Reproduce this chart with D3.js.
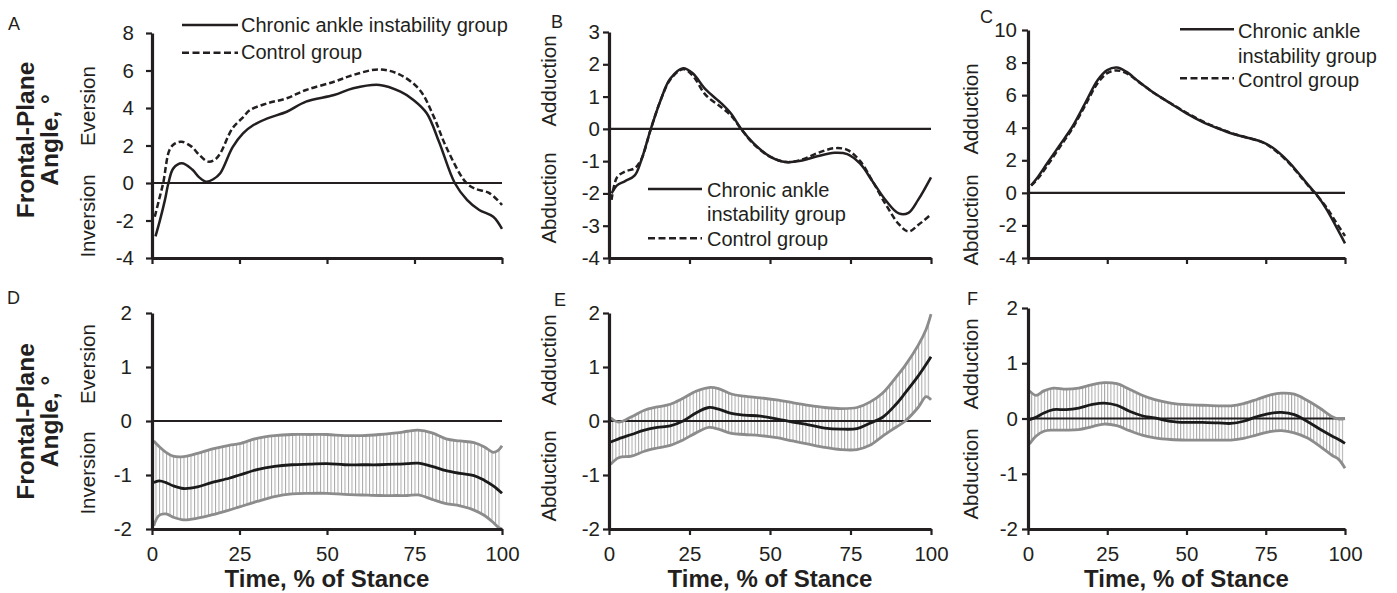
<!DOCTYPE html>
<html><head><meta charset="utf-8">
<script src="https://cdn.jsdelivr.net/npm/d3@7"></script>
<style>
body{margin:0;background:#fff}
svg{display:block}
text{font-family:"Liberation Sans",Arial,Helvetica,sans-serif;fill:#231f20}
</style>
</head><body><svg id="c" width="1397" height="593"></svg>
<script>
// ---------------- data ----------------
const stanceTicks = [0, 25, 50, 75, 100];
const aTicks = [-4, -2, 0, 2, 4, 6, 8];
const bTicks = [-4, -3, -2, -1, 0, 1, 2, 3];
const cTicks = [-4, -2, 0, 2, 4, 6, 8, 10];
const diffTicks = [-2, -1, 0, 1, 2];
const seriesNames = ["Chronic ankle instability group", "Control group"];

// Panel A: ankle (rearfoot) frontal-plane angle
const aTimeCAI = [1, 2.3, 3.7, 4.7, 6.1, 8.5, 11.5, 13.5, 15.5, 17.5, 19.5, 23, 26, 29, 33, 38.5, 44, 52, 57.5, 65, 71, 74.7, 78.5, 82, 86.5, 90, 93.5, 97.5, 100];
const aCAI = [-2.85, -1.97, -0.9, 0, 0.78, 1.05, 0.72, 0.3, 0.07, 0.2, 0.52, 1.9, 2.65, 3.09, 3.45, 3.8, 4.34, 4.69, 5.05, 5.23, 4.87, 4.43, 3.72, 2.2, 0, -0.9, -1.44, -1.8, -2.45];
const aTimeCtrl = [0.8, 2, 3.2, 5, 6.5, 8.5, 11.3, 13.5, 16, 18, 19.5, 23, 26, 28, 33, 38.5, 44, 52, 57.5, 65, 71, 76.5, 80.5, 84, 89.5, 92, 96.5, 100];
const aCtrl = [-1.8, -0.9, 0, 1.76, 2.1, 2.2, 1.94, 1.5, 1.14, 1.25, 1.58, 2.92, 3.5, 3.89, 4.25, 4.52, 4.96, 5.4, 5.76, 6.06, 5.76, 4.96, 3.54, 1.94, 0.07, -0.28, -0.55, -1.17];

// Panel B
const bTime = [0.8, 2.5, 5, 8, 10, 13, 16, 19, 23, 26, 30, 35, 38, 41, 45, 50, 55, 60, 65, 70, 74, 78, 82, 86, 90, 93, 96, 100];
const bCAI = [-2.0, -1.75, -1.62, -1.44, -0.98, 0, 0.88, 1.55, 1.88, 1.72, 1.22, 0.78, 0.46, 0, -0.46, -0.86, -1.03, -0.98, -0.84, -0.74, -0.78, -1.08, -1.65, -2.22, -2.62, -2.6, -2.2, -1.5];
const bCtrl = [-2.2, -1.5, -1.32, -1.22, -0.95, 0, 0.88, 1.52, 1.85, 1.65, 1.05, 0.66, 0.4, 0, -0.48, -0.86, -1.03, -0.95, -0.74, -0.6, -0.65, -1.0, -1.65, -2.35, -2.95, -3.18, -2.98, -2.65];

// Panel C
const cTime = [1, 3, 6, 10, 14, 18, 22, 25, 28, 31, 35, 40, 45, 50, 55, 60, 65, 70, 74, 77, 82, 86, 89, 91, 94, 97, 100];
const cCAI = [0.47, 0.95, 1.8, 2.93, 4.06, 5.49, 6.93, 7.54, 7.7, 7.44, 6.82, 6.1, 5.49, 4.88, 4.36, 3.95, 3.6, 3.35, 3.12, 2.8, 1.95, 1.05, 0.35, -0.1, -0.95, -2.0, -3.1];
const cCtrl = [0.45, 0.85, 1.65, 2.8, 3.95, 5.35, 6.75, 7.35, 7.52, 7.35, 6.8, 6.1, 5.5, 4.92, 4.4, 3.98, 3.62, 3.35, 3.1, 2.75, 1.9, 1.0, 0.3, -0.12, -0.85, -1.75, -2.65];

// Panel D: mean difference with confidence band
const dTime = [0.5, 2, 4, 6, 9, 13, 17, 22, 25, 30, 35, 40, 45, 50, 55, 60, 65, 70, 73, 76, 80, 84, 88, 92, 95, 97.5, 99, 100];
const dMean = [-1.14, -1.11, -1.14, -1.2, -1.25, -1.22, -1.14, -1.06, -1.0, -0.9, -0.84, -0.81, -0.8, -0.79, -0.81, -0.81, -0.81, -0.8, -0.79, -0.78, -0.84, -0.92, -0.97, -1.01, -1.1, -1.2, -1.28, -1.34];
const dUpper = [-0.37, -0.47, -0.58, -0.65, -0.66, -0.6, -0.52, -0.45, -0.42, -0.32, -0.27, -0.25, -0.25, -0.25, -0.27, -0.27, -0.25, -0.22, -0.19, -0.17, -0.22, -0.33, -0.37, -0.4, -0.48, -0.58, -0.54, -0.46];
const dLower = [-1.94, -1.75, -1.72, -1.78, -1.83, -1.8, -1.74, -1.65, -1.59, -1.49, -1.4, -1.35, -1.34, -1.34, -1.36, -1.37, -1.38, -1.38, -1.38, -1.37, -1.45, -1.53, -1.57, -1.65, -1.75, -1.88, -1.97, -2.0];

// Panel E
const eTime = [0.5, 3, 7, 11, 15, 19, 23, 27, 31, 34, 38, 42, 47, 52, 57, 62, 67, 72, 77, 81, 85, 89, 92, 96, 98.5, 100];
const eMean = [-0.39, -0.33, -0.25, -0.17, -0.12, -0.09, 0, 0.15, 0.25, 0.22, 0.14, 0.11, 0.09, 0.04, -0.02, -0.07, -0.13, -0.15, -0.14, -0.04, 0.07, 0.3, 0.52, 0.83, 1.05, 1.19];
const eUpper = [0.06, -0.02, 0.08, 0.2, 0.26, 0.31, 0.42, 0.55, 0.62, 0.6, 0.5, 0.46, 0.43, 0.39, 0.34, 0.29, 0.25, 0.23, 0.25, 0.35, 0.52, 0.8, 1.03, 1.4, 1.7, 1.98];
const eLower = [-0.8, -0.68, -0.65, -0.56, -0.5, -0.45, -0.35, -0.22, -0.12, -0.15, -0.23, -0.25, -0.27, -0.31, -0.37, -0.43, -0.49, -0.53, -0.53, -0.45, -0.28, -0.12, 0, 0.25, 0.45, 0.39];

// Panel F
const fTime = [0.5, 2.5, 5, 8, 12, 16, 20, 24, 28, 32, 36, 40, 45, 50, 55, 60, 64, 68, 72, 76, 80, 84, 88, 92, 96, 98, 100];
const fMean = [-0.02, 0.02, 0.1, 0.16, 0.16, 0.19, 0.25, 0.28, 0.24, 0.13, 0.05, 0.01, -0.05, -0.07, -0.07, -0.08, -0.09, -0.05, 0.03, 0.09, 0.11, 0.07, -0.05, -0.19, -0.32, -0.38, -0.45];
const fUpper = [0.5, 0.42, 0.5, 0.55, 0.53, 0.55, 0.61, 0.65, 0.63, 0.53, 0.42, 0.34, 0.28, 0.25, 0.24, 0.23, 0.23, 0.27, 0.34, 0.42, 0.46, 0.44, 0.33, 0.19, 0.03, -0.01, 0.0];
const fLower = [-0.46, -0.32, -0.23, -0.21, -0.21, -0.2, -0.15, -0.1, -0.13, -0.22, -0.3, -0.35, -0.38, -0.39, -0.39, -0.39, -0.39, -0.36, -0.3, -0.24, -0.22, -0.26, -0.35, -0.5, -0.67, -0.74, -0.9];

// ---------------- drawing ----------------
const svg = d3.select("#c");
const INK = "#231f20";
const zip = (t, v) => t.map((d, i) => [d, v[i]]);

function drawPanel(cfg) {
  const x = d3.scaleLinear().domain([0, 100]).range([cfg.left, cfg.right]);
  const y = d3.scaleLinear().domain(cfg.domain).range([cfg.bottom, cfg.top]);
  const g = svg.append("g");
  const curve = d3.curveCatmullRom.alpha(0.5);
  const line = d3.line().x(d => x(d[0])).y(d => y(d[1])).curve(curve);

  if (cfg.band) {
    const pw = x(1) - x(0);
    const pat = svg.append("defs").append("pattern")
      .attr("id", "hatch" + cfg.id).attr("patternUnits", "userSpaceOnUse")
      .attr("x", x(0)).attr("y", 0).attr("width", pw).attr("height", 10);
    pat.append("line").attr("x1", 0.5).attr("x2", 0.5).attr("y1", 0).attr("y2", 10)
      .attr("stroke", "#a8a8a8").attr("stroke-width", 1);
    const b = cfg.band;
    const rows = b.time.map((t, i) => ({t, lo: b.lower[i], hi: b.upper[i]}));
    const area = d3.area().x(d => x(d.t)).y0(d => y(d.lo)).y1(d => y(d.hi)).curve(curve);
    g.append("path").attr("d", area(rows)).attr("fill", "url(#hatch" + cfg.id + ")");
  }

  // zero line
  g.append("line").attr("x1", x(0)).attr("x2", x(100)).attr("y1", y(0)).attr("y2", y(0))
    .attr("stroke", INK).attr("stroke-width", 2.2);

  if (cfg.band) {
    const b = cfg.band;
    g.append("path").attr("d", line(zip(b.time, b.upper))).attr("fill", "none").attr("stroke", "#8c8c8c").attr("stroke-width", 2.8);
    g.append("path").attr("d", line(zip(b.time, b.lower))).attr("fill", "none").attr("stroke", "#8c8c8c").attr("stroke-width", 2.8);
    g.append("path").attr("d", line(zip(b.time, b.mean))).attr("fill", "none").attr("stroke", "#1a1a1a").attr("stroke-width", 2.8);
  }
  if (cfg.lines) {
    cfg.lines.forEach(s => {
      g.append("path").attr("d", line(zip(s.time, s.values))).attr("fill", "none")
        .attr("stroke", INK).attr("stroke-width", 2.5)
        .attr("stroke-dasharray", s.dash ? "6,3" : null);
    });
  }

  // axes
  const yAx = g.append("g").attr("transform", `translate(${x(0)},0)`)
    .call(d3.axisLeft(y).tickValues(cfg.yTicks).tickSize(6).tickSizeOuter(0)
      .tickPadding(cfg.yPad).tickFormat(d => String(d)));
  const xAx = g.append("g").attr("transform", `translate(0,${y(cfg.domain[0])})`)
    .call(d3.axisBottom(x).tickValues(stanceTicks).tickSize(6).tickSizeOuter(0)
      .tickPadding(11).tickFormat(d => cfg.xLabels ? String(d) : ""));
  [yAx, xAx].forEach(a => {
    a.select(".domain").attr("stroke", INK).attr("stroke-width", 3.2);
    a.selectAll(".tick line").attr("stroke", INK).attr("stroke-width", 2.2);
    a.selectAll(".tick text").attr("font-size", 20.5).attr("fill", INK)
      .attr("font-family", '"Liberation Sans",Arial,sans-serif');
  });

  // direction annotations
  cfg.notes.forEach(n => {
    g.append("text").attr("transform", `translate(${n.x},${n.y}) rotate(-90)`)
      .attr("text-anchor", "middle").attr("font-size", 20.5).text(n.text);
  });

  // panel letter
  g.append("text").attr("x", cfg.letter[0]).attr("y", cfg.letter[1]).attr("font-size", 18).text(cfg.id);

  if (cfg.xLabels) {
    g.append("text").attr("x", (x(0) + x(100)) / 2).attr("y", 587).attr("text-anchor", "middle")
      .attr("font-size", 24).attr("font-weight", "bold").text("Time, % of Stance");
  }

  if (cfg.legend) {
    const L = cfg.legend;
    L.rows.forEach(r => {
      if (r.line !== undefined) {
        g.append("line").attr("x1", L.x1).attr("x2", L.x2).attr("y1", r.line).attr("y2", r.line)
          .attr("stroke", INK).attr("stroke-width", 2.4).attr("stroke-dasharray", r.dash ? "7,3.5" : null);
      }
      g.append("text").attr("x", L.tx).attr("y", r.base).attr("font-size", 20).text(r.text);
    });
  }
}

function yTitle(cy) {
  svg.append("text").attr("transform", `translate(34,${cy}) rotate(-90)`).attr("text-anchor", "middle")
    .attr("font-size", 24.5).attr("font-weight", "bold").text("Frontal-Plane");
  svg.append("text").attr("transform", `translate(58,${cy}) rotate(-90)`).attr("text-anchor", "middle")
    .attr("font-size", 24.5).attr("font-weight", "bold").text("Angle, °");
}

drawPanel({id: "A", left: 152, right: 502, top: 33, bottom: 258, domain: [-4, 8], yTicks: aTicks, yPad: 12,
  letter: [8, 30], xLabels: false,
  lines: [{time: aTimeCAI, values: aCAI}, {time: aTimeCtrl, values: aCtrl, dash: true}],
  notes: [{x: 95, y: 106, text: "Eversion"}, {x: 95, y: 216, text: "Inversion"}],
  legend: {x1: 182, x2: 238, tx: 241, rows: [
    {line: 25, base: 32, text: seriesNames[0]},
    {line: 52.7, dash: true, base: 59, text: seriesNames[1]}]}
});
drawPanel({id: "B", left: 609, right: 931, top: 32, bottom: 258, domain: [-4, 3], yTicks: bTicks, yPad: 3,
  letter: [551, 28], xLabels: false,
  lines: [{time: bTime, values: bCAI}, {time: bTime, values: bCtrl, dash: true}],
  notes: [{x: 556, y: 81, text: "Adduction"}, {x: 556, y: 198, text: "Abduction"}],
  legend: {x1: 648, x2: 702, tx: 707, rows: [
    {line: 189, base: 196.5, text: "Chronic ankle"},
    {base: 221, text: "instability group"},
    {line: 238.3, dash: true, base: 246, text: seriesNames[1]}]}
});
drawPanel({id: "C", left: 1028, right: 1345, top: 30, bottom: 258, domain: [-4, 10], yTicks: cTicks, yPad: 5,
  letter: [980, 23], xLabels: false,
  lines: [{time: cTime, values: cCAI}, {time: cTime, values: cCtrl, dash: true}],
  notes: [{x: 978, y: 109, text: "Adduction"}, {x: 978, y: 220, text: "Abduction"}],
  legend: {x1: 1180, x2: 1234, tx: 1238, rows: [
    {line: 29.3, base: 38, text: "Chronic ankle"},
    {base: 62.5, text: "instability group"},
    {line: 78.3, dash: true, base: 86.5, text: seriesNames[1]}]}
});
drawPanel({id: "D", left: 152, right: 502, top: 313, bottom: 529, domain: [-2, 2], yTicks: diffTicks, yPad: 14,
  letter: [7, 304], xLabels: true,
  band: {time: dTime, mean: dMean, upper: dUpper, lower: dLower},
  notes: [{x: 95, y: 364, text: "Eversion"}, {x: 95, y: 473, text: "Inversion"}]
});
drawPanel({id: "E", left: 609, right: 931, top: 313, bottom: 529, domain: [-2, 2], yTicks: diffTicks, yPad: 3,
  letter: [554, 306], xLabels: true,
  band: {time: eTime, mean: eMean, upper: eUpper, lower: eLower},
  notes: [{x: 556, y: 360, text: "Adduction"}, {x: 556, y: 476, text: "Abduction"}]
});
drawPanel({id: "F", left: 1028, right: 1345, top: 308, bottom: 529, domain: [-2, 2], yTicks: diffTicks, yPad: 4,
  letter: [967, 305], xLabels: true,
  band: {time: fTime, mean: fMean, upper: fUpper, lower: fLower},
  notes: [{x: 978, y: 364, text: "Adduction"}, {x: 978, y: 474, text: "Abduction"}]
});
yTitle(140);
yTitle(421.5);
</script>
</body></html>
